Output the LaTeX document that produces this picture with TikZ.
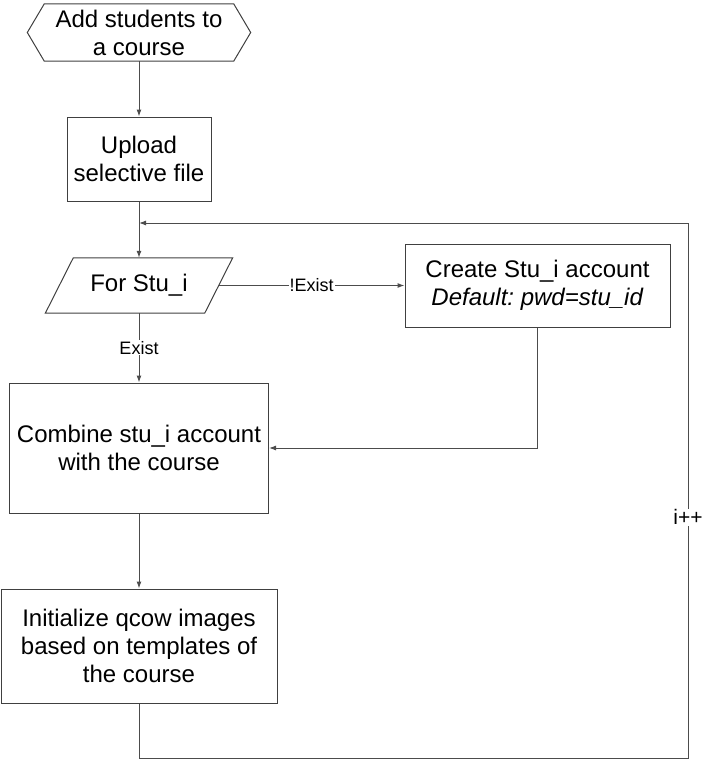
\documentclass[tikz,border=0pt]{standalone}
\usepackage{fontspec}
\setmainfont{Liberation Sans}
\usetikzlibrary{arrows.meta,calc}
\frenchspacing
\begin{document}
\begin{tikzpicture}[x=1pt,y=-1pt,
  outline/.style={draw=black!75, line width=1pt},
  box/.style={outline, inner sep=0pt, align=center, font=\fontsize{24}{28}\selectfont},
  plain/.style={inner sep=0pt, align=center, font=\fontsize{24}{28}\selectfont},
  conn/.style={draw=black!70, line width=1pt, -{Latex[length=7pt,width=5pt]}},
  lbl/.style={fill=white, inner sep=1pt, font=\fontsize{18}{20}\selectfont},
  biglbl/.style={fill=white, inner sep=1pt, font=\fontsize{21}{23}\selectfont}]
\useasboundingbox (0,0) rectangle (706,760);

% nodes
\node[plain, minimum width=223pt, minimum height=57pt] (start) at (139,32.5) {Add students to\\a course};
\draw[outline] (start.west) -- ($(start.north west)+(17,0)$) -- ($(start.north east)+(-17,0)$)
  -- (start.east) -- ($(start.south east)+(-17,0)$) -- ($(start.south west)+(17,0)$) -- cycle;

\node[box, minimum width=144pt, minimum height=84pt] (upload) at (139,159) {Upload\\selective file};

\node[plain, minimum width=187pt, minimum height=55pt] (for) at (139,285.5) {For Stu\_i};
\draw[outline] ($(for.north west)+(28,0)$) -- (for.north east) -- ($(for.south east)+(-28,0)$)
  -- (for.south west) -- cycle;
\coordinate (forR) at ($(for.east)+(-14,0)$);

\node[box, minimum width=265pt, minimum height=83pt] (create) at (537.5,285.5)
  {Create Stu\_i account\\\textit{Default: pwd=stu\_id}};

\node[box, minimum width=259pt, minimum height=130pt] (combine) at (139,448)
  {Combine stu\_i account\\with the course};

\node[box, minimum width=276pt, minimum height=114pt] (init) at (139,646)
  {Initialize qcow images\\based on templates of\\the course};

% loop coordinates
\coordinate (loopBL) at (139,758);
\coordinate (loopBR) at (688,758);
\coordinate (loopTR) at (688,223);
\coordinate (loopEnd) at (139,223);

% connectors
\draw[conn] (start.south) -- (upload.north);
\draw[conn] (upload.south) -- (for.north);
\draw[conn] (forR) -- node[lbl] {!Exist} (create.west);
\draw[conn] (for.south) -- node[lbl] {Exist} (combine.north);
\draw[conn] (create.south) |- (combine.east);
\draw[conn] (combine.south) -- (init.north);
\draw[conn] (init.south) -- (loopBL) -- (loopBR) -- node[biglbl, pos=0.45] {i++} (loopTR) -- (loopEnd);
\end{tikzpicture}
\end{document}
